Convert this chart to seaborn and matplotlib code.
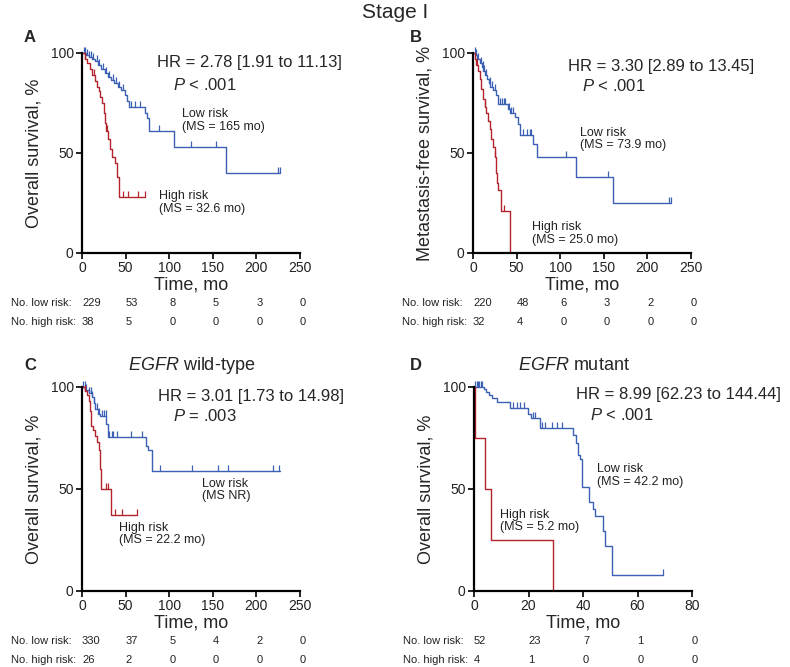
import numpy as np
import pandas as pd
import seaborn as sns
import matplotlib.pyplot as plt

# Kaplan-Meier steps: time (mo) and survival (%)
a_low_t = [0, 5, 8, 12, 15, 18, 22, 26, 30, 33, 37, 41, 45, 49, 52, 54, 72, 74.5, 77, 105.5, 165, 227]
a_low_s = [100, 99, 98, 97, 96, 94, 92, 90, 88, 86.5, 85, 83, 81.5, 79, 76, 73, 70, 67.5, 61, 53, 40, 40]
a_low_cens = [2, 4, 6, 8, 10, 13, 17, 20, 24, 28, 31, 35, 39, 43, 47, 56, 61, 67, 88, 125, 154, 225, 227]
a_high_t = [0, 3, 6, 9, 12, 15, 17, 19, 21, 23, 25, 26.5, 28, 30, 32, 34, 38, 40, 43, 72]
a_high_s = [100, 97, 95, 92, 89, 86, 83, 81, 78, 75, 70, 65, 61, 57, 52, 48, 45, 38, 28, 28]
a_high_cens = [4, 14, 29, 47, 53, 64, 72]

b_low_t = [0, 3, 5, 8, 10, 12, 14, 16, 18, 20, 23, 26.7, 28.6, 40, 42, 47.7, 51.5, 53.4, 68.7, 73.9, 117.6, 160, 227]
b_low_s = [100, 99, 97, 95, 93, 91, 89, 87, 85, 83, 81.5, 79, 74.5, 72, 70, 68, 64.6, 58.8, 54.5, 48, 37.8, 25.2, 25.2]
b_low_cens = [2, 4, 6, 9, 11, 13, 15, 19, 22, 25, 31, 33, 35, 37, 41, 44, 46, 57, 62, 65, 67, 107, 155, 225, 227]
b_high_t = [0, 2, 4, 6, 8, 9.6, 11.5, 13.4, 15, 17, 19, 21, 23, 25, 26, 27.5, 29, 32.5, 42.5]
b_high_s = [100, 97, 94, 91, 87, 82, 77, 73, 70, 66, 62, 57, 53, 48, 40, 35, 31.5, 21, 0]
b_high_cens = [5, 14, 25, 35]

c_low_t = [0, 4, 7.5, 11, 13.4, 15.3, 18.7, 21, 27.5, 30, 73, 76, 80, 227]
c_low_s = [100, 98.7, 97, 95, 92, 89, 87, 86, 82, 75.7, 71, 69, 59, 59]
c_low_cens = [1, 3, 5, 8, 10, 12, 14, 17, 20, 23, 25, 27, 31, 34, 36, 40, 56, 69, 90, 126, 156, 168, 219, 226]
c_high_t = [0, 3, 6, 8, 9.5, 10.3, 13, 15, 17, 19, 20.5, 21.5, 22.2, 33, 63]
c_high_s = [100, 98, 96, 93, 88, 81, 79, 76, 73, 69, 60, 56, 50, 37.5, 37.5]
c_high_cens = [3, 27, 30, 38, 46, 63]

d_low_t = [0, 3.5, 4.5, 5.5, 6.5, 8.3, 13.2, 19.9, 21, 24.2, 36.5, 37.3, 38.3, 38.9, 39.5, 42.2, 43.5, 44.4, 47.2, 48, 50.5, 69.5]
d_low_s = [100, 99, 97.5, 96, 94.4, 92.5, 89.5, 87, 84.6, 80, 76.5, 72.5, 66.5, 64.5, 51, 43.6, 40, 36.6, 29.5, 22.3, 8, 8]
d_low_cens = [0.5, 1, 1.5, 2, 2.5, 3, 14.4, 15.7, 16.9, 18.3, 21.5, 22.5, 24.8, 26, 28.5, 30.3, 32.2, 69.5]
d_high_t = [0, 0.4, 4, 6.1, 28.9]
d_high_s = [100, 75, 50, 25, 0]
d_high_cens = []

# numbers at risk
ticks_250 = [0, 50, 100, 150, 200, 250]
ticks_80 = [0, 20, 40, 60, 80]
a_risk_low = [229, 53, 8, 5, 3, 0]
a_risk_high = [38, 5, 0, 0, 0, 0]
b_risk_low = [220, 48, 6, 3, 2, 0]
b_risk_high = [32, 4, 0, 0, 0, 0]
c_risk_low = [330, 37, 5, 4, 2, 0]
c_risk_high = [26, 2, 0, 0, 0, 0]
d_risk_low = [52, 23, 7, 1, 0]
d_risk_high = [4, 1, 0, 0, 0]

sns.set_theme(style="ticks")
plt.rcParams["font.family"] = ["Liberation Sans", "DejaVu Sans"]
plt.rcParams["mathtext.fontset"] = "custom"
plt.rcParams["mathtext.rm"] = "Liberation Sans"
plt.rcParams["mathtext.it"] = "Liberation Sans:italic"

BLUE = "#3b60b4"
RED = "#b2232c"
W, H = 790, 667

fig = plt.figure(figsize=(7.9, 6.67), dpi=100)


def px_axes(left, top, right, bottom):
    return fig.add_axes([left / W, 1 - bottom / H, (right - left) / W, (bottom - top) / H])


def ftext(x, y, s, **kw):
    return fig.text(x / W, 1 - y / H, s, **kw)


def km(ax, t, s, cens, color):
    df = pd.DataFrame({"t": t, "s": s})
    sns.lineplot(data=df, x="t", y="s", drawstyle="steps-post", estimator=None, sort=False,
                 color=color, lw=1.0, ax=ax, clip_on=False)
    if len(cens):
        idx = np.searchsorted(t, cens, side="right") - 1
        cy = np.asarray(s)[idx]
        sns.lineplot(x=cens, y=cy, estimator=None, sort=False, ax=ax, linestyle="",
                     marker=2, markersize=4, markeredgewidth=0.9, markeredgecolor=color,
                     color=color, clip_on=False)


def style_axes(ax, xmax, ticks, ylabel):
    ax.set_xlim(0, xmax)
    ax.set_ylim(0, 100)
    ax.set_xticks(ticks)
    ax.set_yticks([0, 50, 100])
    sns.despine(ax=ax)
    for sp in ["left", "bottom"]:
        ax.spines[sp].set_linewidth(1.6)
        ax.spines[sp].set_color("black")
    ax.tick_params(length=4, width=1.2, labelsize=10, pad=2, color="black", labelcolor="#222222")
    ax.set_xlabel("Time, mo", fontsize=13, labelpad=1)
    ax.set_ylabel(ylabel, fontsize=13, labelpad=6)


def risk_table(ax, ticks, low, high, height_px):
    tr = ax.get_xaxis_transform()
    y1, y2 = -50 / height_px, -69 / height_px
    kw = dict(fontsize=8, va="center", ha="left", color="#222222")
    ax.text(-71 / 218, y1, "No. low risk:", transform=ax.transAxes, **kw)
    ax.text(-71 / 218, y2, "No. high risk:", transform=ax.transAxes, **kw)
    for x, a, b in zip(ticks, low, high):
        ax.text(x, y1, str(a), transform=tr, **kw)
        ax.text(x, y2, str(b), transform=tr, **kw)


def hr_text(x, y, hr, px, py, p_rest):
    ftext(x, y, hr, fontsize=12, va="center", ha="left")
    ftext(px, py, r"$\mathit{P}$" + p_rest, fontsize=12, va="center", ha="left")


axA = px_axes(82, 53, 300, 253)
axB = px_axes(473, 53, 691, 253)
axC = px_axes(82, 387, 300, 591)
axD = px_axes(474, 387, 692, 591)

km(axA, a_low_t, a_low_s, a_low_cens, BLUE)
km(axA, a_high_t, a_high_s, a_high_cens, RED)
km(axB, b_low_t, b_low_s, b_low_cens, BLUE)
km(axB, b_high_t, b_high_s, b_high_cens, RED)
km(axC, c_low_t, c_low_s, c_low_cens, BLUE)
km(axC, c_high_t, c_high_s, c_high_cens, RED)
km(axD, d_low_t, d_low_s, d_low_cens, BLUE)
km(axD, d_high_t, d_high_s, d_high_cens, RED)

style_axes(axA, 250, ticks_250, "Overall survival, %")
style_axes(axB, 250, ticks_250, "Metastasis-free survival, %")
style_axes(axC, 250, ticks_250, "Overall survival, %")
style_axes(axD, 80, ticks_80, "Overall survival, %")

risk_table(axA, ticks_250, a_risk_low, a_risk_high, 200)
risk_table(axB, ticks_250, b_risk_low, b_risk_high, 200)
risk_table(axC, ticks_250, c_risk_low, c_risk_high, 204)
risk_table(axD, ticks_80, d_risk_low, d_risk_high, 204)

hr_text(157, 63, "HR = 2.78 [1.91 to 11.13]", 173, 85, " < .001")
hr_text(568, 67, "HR = 3.30 [2.89 to 13.45]", 582, 86, " < .001")
hr_text(158, 397, "HR = 3.01 [1.73 to 14.98]", 173, 416, " = .003")
hr_text(576, 395, "HR = 8.99 [62.23 to 144.44]", 590, 415, " < .001")

lab = dict(fontsize=9, va="center", ha="left", linespacing=1.05, color="#222222")
ftext(182, 120.5, "Low risk\n(MS = 165 mo)", **lab)
ftext(159, 202.5, "High risk\n(MS = 32.6 mo)", **lab)
ftext(580, 139, "Low risk\n(MS = 73.9 mo)", **lab)
ftext(532, 233.5, "High risk\n(MS = 25.0 mo)", **lab)
ftext(202, 490, "Low risk\n(MS NR)", **lab)
ftext(119, 534, "High risk\n(MS = 22.2 mo)", **lab)
ftext(597, 475.5, "Low risk\n(MS = 42.2 mo)", **lab)
ftext(500, 521, "High risk\n(MS = 5.2 mo)", **lab)

ftext(395, 12, "Stage I", fontsize=15, va="center", ha="center")
for x, y, s in [(30, 37, "A"), (416, 37, "B"), (30, 365, "C"), (416, 365, "D")]:
    ftext(x, y, s, fontsize=12, fontweight="bold", va="center", ha="center")

ftext(128, 365, r"$\mathit{EGFR}$ wild-type", fontsize=13, va="center", ha="left")
ftext(518, 365, r"$\mathit{EGFR}$ mutant", fontsize=13, va="center", ha="left")

fig.savefig("out.png", dpi=100)
